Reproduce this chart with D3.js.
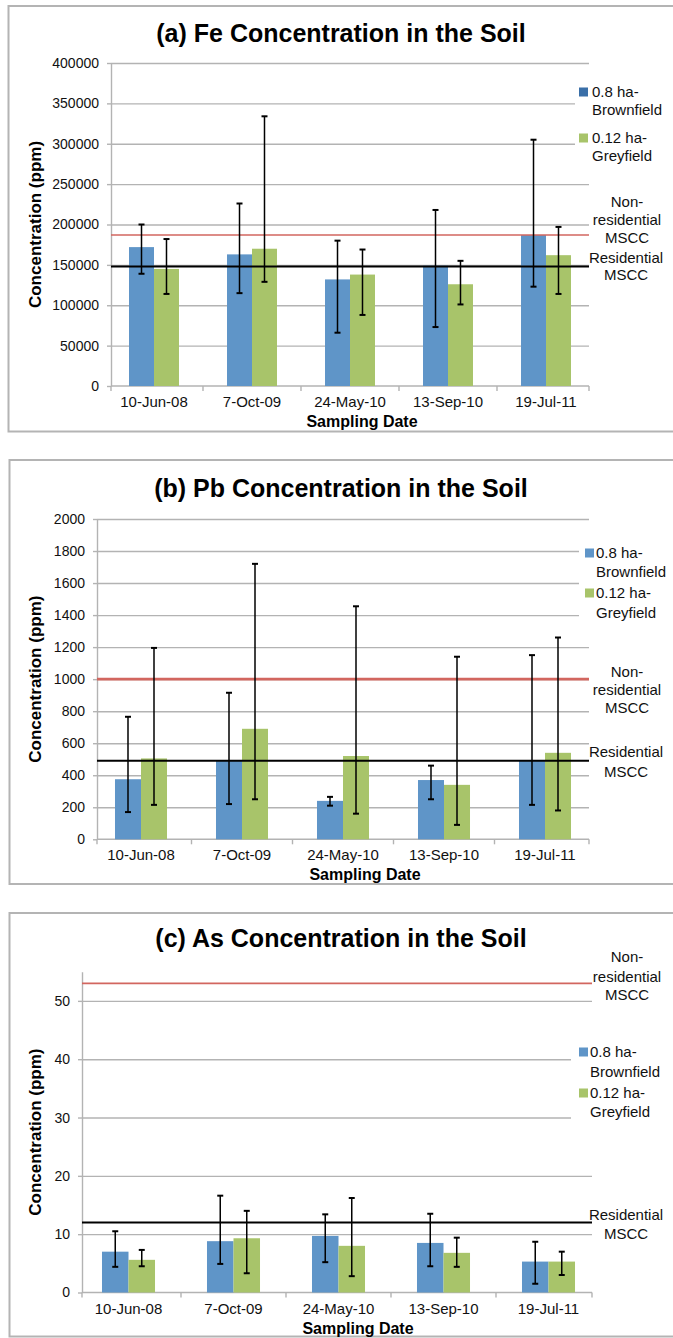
<!DOCTYPE html>
<html>
<head>
<meta charset="utf-8">
<script src="https://cdn.jsdelivr.net/npm/d3@7"></script>
<style>
  html, body { margin: 0; padding: 0; background: #fff; }
  svg { display: block; font-family: Arial, "Liberation Sans", sans-serif; }
</style>
</head>
<body>
<svg id="chart" width="673" height="1338"></svg>
<script>
// ---- data ----
const dates = ['10-Jun-08', '7-Oct-09', '24-May-10', '13-Sep-10', '19-Jul-11'];
const seriesNames = [['0.8 ha-', 'Brownfield'], ['0.12 ha-', 'Greyfield']];

// (a) Fe
const feBrown     = [172000, 163000, 132000, 149000, 187000];
const feBrownLow  = [139000, 115000, 66000, 73000, 123000];
const feBrownHigh = [200000, 226000, 180000, 218000, 305000];
const feGrey      = [145000, 170000, 138000, 126000, 162000];
const feGreyLow   = [114000, 129000, 88000, 101000, 114000];
const feGreyHigh  = [182000, 334000, 169000, 155000, 197000];
const feTicks     = [0, 50000, 100000, 150000, 200000, 250000, 300000, 350000, 400000];
const feNonRes = 187000, feRes = 148000;

// (b) Pb
const pbBrown     = [375, 490, 240, 370, 490];
const pbBrownLow  = [170, 220, 210, 250, 215];
const pbBrownHigh = [765, 915, 265, 460, 1150];
const pbGrey      = [505, 690, 520, 340, 540];
const pbGreyLow   = [215, 250, 160, 90, 180];
const pbGreyHigh  = [1195, 1720, 1455, 1140, 1260];
const pbTicks     = [0, 200, 400, 600, 800, 1000, 1200, 1400, 1600, 1800, 2000];
const pbNonRes = 1000, pbRes = 490;

// (c) As
const asBrown     = [7.0, 8.8, 9.7, 8.5, 5.3];
const asBrownLow  = [4.4, 4.9, 5.2, 4.5, 1.5];
const asBrownHigh = [10.5, 16.6, 13.4, 13.5, 8.7];
const asGrey      = [5.6, 9.3, 8.0, 6.8, 5.3];
const asGreyLow   = [4.5, 3.3, 2.8, 4.4, 3.0];
const asGreyHigh  = [7.3, 14.0, 16.2, 9.4, 7.0];
const asTicks     = [0, 10, 20, 30, 40, 50];
const asNonRes = 53, asRes = 12;

const BLUE = '#5f95c8';
const GREEN = '#a8c46a';
const GRID = '#b3b3b3';
const TXT = '#111';

const panels = [
  {
    title: '(a) Fe Concentration in the Soil',
    frame: [8.5, 6, 431.5],
    plot: { left: 111, right: 589, top: 63, bottom: 386 },
    band: [105, 595], pad: 0.49,
    yMax: 400000, ticks: feTicks,
    series: [
      { vals: feBrown, lo: feBrownLow, hi: feBrownHigh, color: BLUE },
      { vals: feGrey,  lo: feGreyLow,  hi: feGreyHigh,  color: GREEN }
    ],
    nonRes: feNonRes, res: feRes, redW: 1.3,
    titleY: 42, xLabelX: 362,
    legend: { box: [575, 80, 93, 86], sqX: 579, textX: 592, ys: [92, 110, 138, 156], blue: '#3a6fa8' },
    nonResY: [202, 220, 238], resY: [258, 275]
  },
  {
    title: '(b) Pb Concentration in the Soil',
    frame: [9.5, 460, 884],
    plot: { left: 97, right: 589, top: 519, bottom: 839.3 },
    band: [90.5, 595.5], pad: 0.485,
    yMax: 2000, ticks: pbTicks,
    series: [
      { vals: pbBrown, lo: pbBrownLow, hi: pbBrownHigh, color: BLUE },
      { vals: pbGrey,  lo: pbGreyLow,  hi: pbGreyHigh,  color: GREEN }
    ],
    nonRes: pbNonRes, res: pbRes, redW: 2.6,
    titleY: 497, xLabelX: 365,
    legend: { box: [579, 540, 89, 85], sqX: 585, textX: 596, ys: [553, 572, 593, 613], blue: BLUE },
    nonResY: [672, 690, 708], resY: [752, 772]
  },
  {
    title: '(c) As Concentration in the Soil',
    frame: [9.5, 913, 1336.5],
    plot: { left: 82, right: 592, top: 971.7, bottom: 1292.5 },
    band: [76, 601], pad: 0.495,
    yMax: 55, ticks: asTicks,
    series: [
      { vals: asBrown, lo: asBrownLow, hi: asBrownHigh, color: BLUE },
      { vals: asGrey,  lo: asGreyLow,  hi: asGreyHigh,  color: GREEN }
    ],
    nonRes: asNonRes, res: asRes, redW: 1.6,
    titleY: 947, xLabelX: 358,
    legend: { box: [571, 1040, 97, 84], sqX: 579, textX: 590, ys: [1052, 1072, 1093, 1112], blue: BLUE },
    nonResY: [957, 977, 995], resY: [1215, 1234]
  }
];

const svg = d3.select('#chart');

function drawPanel(p) {
  const g = svg.append('g');
  const P = p.plot;
  const W = P.right - P.left;

  // frame
  g.append('rect')
    .attr('x', p.frame[0]).attr('y', p.frame[1])
    .attr('width', 680 - p.frame[0]).attr('height', p.frame[2] - p.frame[1])
    .attr('fill', '#fff').attr('stroke', '#b4b4b4').attr('stroke-width', 2);

  const y = d3.scaleLinear().domain([0, p.yMax]).range([P.bottom, P.top]);
  const x = d3.scaleBand().domain(dates).range(p.band)
    .paddingInner(p.pad).paddingOuter(p.pad / 2);
  const xs = d3.scaleBand().domain([0, 1]).range([0, x.bandwidth()]);

  // gridlines
  g.append('g').attr('transform', `translate(${P.left},0)`)
    .call(d3.axisLeft(y).tickValues(p.ticks.slice(1)).tickSize(-W).tickFormat(''))
    .call(ax => ax.select('.domain').remove())
    .selectAll('line').attr('stroke', GRID).attr('stroke-width', 1.4);

  // y axis
  g.append('g').attr('transform', `translate(${P.left},0)`)
    .call(d3.axisLeft(y).tickValues(p.ticks).tickSize(4).tickSizeOuter(0).tickPadding(8).tickFormat(d3.format('d')))
    .call(ax => ax.select('.domain').attr('stroke', GRID).attr('stroke-width', 1.4))
    .call(ax => ax.selectAll('line').attr('stroke', GRID).attr('stroke-width', 1.4))
    .selectAll('text').attr('fill', TXT).style('font-size', '14px');

  // x axis line + category boundary ticks
  g.append('line')
    .attr('x1', P.left).attr('x2', P.right).attr('y1', y(0)).attr('y2', y(0))
    .attr('stroke', GRID).attr('stroke-width', 1.6);
  const bounds = [P.left].concat(dates.slice(1).map(d => x(d) - x.step() * p.pad / 2), [P.right]);
  g.selectAll('.xtick').data(bounds).join('line')
    .attr('x1', d => d).attr('x2', d => d)
    .attr('y1', y(0)).attr('y2', y(0) + 5)
    .attr('stroke', GRID).attr('stroke-width', 1.4);

  // x tick labels
  g.selectAll('.xlab').data(dates).join('text')
    .attr('x', d => x(d) + x.bandwidth() / 2)
    .attr('y', y(0) + 21)
    .attr('text-anchor', 'middle')
    .attr('fill', TXT).style('font-size', '15px')
    .text(d => d);

  // bars
  p.series.forEach((s, k) => {
    g.selectAll('.bar' + k).data(dates).join('rect')
      .attr('x', d => x(d) + xs(k))
      .attr('y', (d, i) => y(s.vals[i]))
      .attr('width', xs.bandwidth())
      .attr('height', (d, i) => y(0) - y(s.vals[i]))
      .attr('fill', s.color);
  });

  // MSCC reference lines
  g.append('line')
    .attr('x1', P.left).attr('x2', P.right)
    .attr('y1', y(p.nonRes)).attr('y2', y(p.nonRes))
    .attr('stroke', '#d2665f').attr('stroke-width', p.redW);
  g.append('line')
    .attr('x1', P.left).attr('x2', P.right)
    .attr('y1', y(p.res)).attr('y2', y(p.res))
    .attr('stroke', '#000').attr('stroke-width', 2);

  // error bars
  p.series.forEach((s, k) => {
    const cx = d => x(d) + xs(k) + xs.bandwidth() / 2;
    const eg = g.append('g').attr('stroke', '#000');
    eg.selectAll('.ev').data(dates).join('line')
      .attr('x1', cx).attr('x2', cx)
      .attr('y1', (d, i) => y(s.lo[i])).attr('y2', (d, i) => y(s.hi[i]))
      .attr('stroke-width', 1.5);
    ['lo', 'hi'].forEach(key => {
      eg.selectAll('.ec' + key).data(dates).join('line')
        .attr('x1', d => cx(d) - 3).attr('x2', d => cx(d) + 3)
        .attr('y1', (d, i) => y(s[key][i])).attr('y2', (d, i) => y(s[key][i]))
        .attr('stroke-width', 2);
    });
  });

  // legend
  const L = p.legend;
  g.append('rect').attr('x', L.box[0]).attr('y', L.box[1])
    .attr('width', L.box[2]).attr('height', L.box[3]).attr('fill', '#fff');
  [L.blue, GREEN].forEach((c, k) => {
    g.append('rect').attr('x', L.sqX).attr('y', L.ys[k * 2] - 4.5)
      .attr('width', 9).attr('height', 9).attr('fill', c);
    seriesNames[k].forEach((t, j) => {
      g.append('text').attr('x', L.textX).attr('y', L.ys[k * 2 + j] + 5)
        .attr('fill', TXT).style('font-size', '15px').text(t);
    });
  });

  // MSCC labels
  ['Non-', 'residential', 'MSCC'].forEach((t, j) => {
    g.append('text').attr('x', 627).attr('y', p.nonResY[j] + 5)
      .attr('text-anchor', 'middle').attr('fill', TXT).style('font-size', '15px').text(t);
  });
  ['Residential', 'MSCC'].forEach((t, j) => {
    g.append('text').attr('x', 626).attr('y', p.resY[j] + 5)
      .attr('text-anchor', 'middle').attr('fill', TXT).style('font-size', '15px').text(t);
  });

  // titles
  g.append('text').attr('x', 341).attr('y', p.titleY)
    .attr('text-anchor', 'middle').attr('fill', '#000')
    .style('font-size', '25px').style('font-weight', 'bold')
    .text(p.title);

  g.append('text').attr('x', p.xLabelX).attr('y', y(0) + 41)
    .attr('text-anchor', 'middle').attr('fill', '#000')
    .style('font-size', '16px').style('font-weight', 'bold')
    .text('Sampling Date');

  const yc = (P.top + P.bottom) / 2;
  g.append('text')
    .attr('transform', `translate(41,${yc}) rotate(-90)`)
    .attr('text-anchor', 'middle').attr('fill', '#000')
    .style('font-size', '17px').style('font-weight', 'bold')
    .text('Concentration (ppm)');
}

panels.forEach(drawPanel);
</script>
</body>
</html>
